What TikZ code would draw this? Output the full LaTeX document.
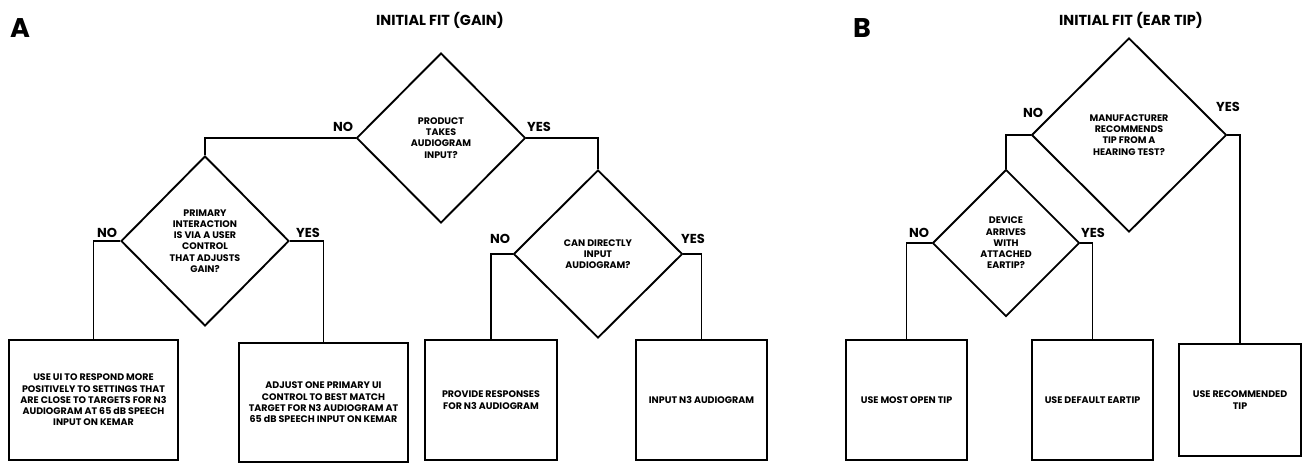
\documentclass[tikz,border=0pt]{standalone}
\usepackage{fontspec}
\setmainfont{Poppins}
\usetikzlibrary{shapes.geometric}

\tikzset{
  decision/.style={diamond, draw, line width=1.9pt, inner sep=0pt, align=center,
    font=\fontsize{9.5}{11.3}\selectfont\bfseries},
  action/.style={rectangle, draw, line width=1.9pt, inner sep=0pt, align=center,
    minimum width=169pt, minimum height=120pt, font=\fontsize{9.5}{11.3}\selectfont\bfseries},
  branch/.style={font=\fontsize{13}{13}\selectfont\bfseries},
  heading/.style={font=\fontsize{14.5}{14.5}\selectfont\bfseries},
  panel/.style={font=\fontsize{27}{27}\selectfont\bfseries},
  link/.style={line width=1.9pt}
}

\begin{document}
\begin{tikzpicture}[x=1pt, y=-1pt]
    \useasboundingbox (0,0) rectangle (1303,464);

    % panel A: gain
    \node[panel] (pa) at (20,28) {A};
    \node[heading] (ta) at (440,20) {INITIAL FIT (GAIN)};

    \node[decision, minimum width=169pt, minimum height=170pt] (audin) at (441,138)
        {PRODUCT\\TAKES\\AUDIOGRAM\\INPUT?};
    \node[decision, minimum width=168pt, minimum height=170pt] (ctrl) at (205,241)
        {PRIMARY\\INTERACTION\\IS VIA A USER\\CONTROL\\THAT ADJUSTS\\GAIN?};
    \node[decision, minimum width=169pt, minimum height=168pt] (direct) at (598,254)
        {CAN DIRECTLY\\INPUT\\AUDIOGRAM?};

    \node[action] (respond) at (93.5,400) {USE UI TO RESPOND MORE\\POSITIVELY TO SETTINGS THAT\\ARE CLOSE TO TARGETS FOR N3\\AUDIOGRAM AT 65 dB SPEECH\\INPUT ON KEMAR};
    \node[action, minimum height=119pt] (adjust) at (323.5,402.5) {ADJUST ONE PRIMARY UI\\CONTROL TO BEST MATCH\\TARGET FOR N3 AUDIOGRAM AT\\65 dB SPEECH INPUT ON KEMAR};
    \node[action, minimum width=132pt] (provide) at (491,400) {PROVIDE RESPONSES\\FOR N3 AUDIOGRAM};
    \node[action, minimum width=131pt] (inputn) at (701.5,400) {INPUT N3 AUDIOGRAM};

    \draw[link] (audin.west) -| (ctrl.north);
    \draw[link] (audin.east) -| (direct.north);
    \draw[link] (ctrl.west) -| (respond.north);
    \draw[link] (ctrl.east) -| (adjust.north);
    \draw[link] (direct.west) -| (provide.north);
    \draw[link] (direct.east) -| (inputn.north);

    \node[branch] (no1) at (343,127) {NO};
    \node[branch] (yes1) at (539,127) {YES};
    \node[branch] (no2) at (107,233) {NO};
    \node[branch] (yes2) at (308,233) {YES};
    \node[branch] (no3) at (500,239) {NO};
    \node[branch] (yes3) at (693,239) {YES};

    % panel B: ear tip
    \node[panel] (pb) at (862,28) {B};
    \node[heading] (tb) at (1131,20) {INITIAL FIT (EAR TIP)};

    \node[decision, minimum width=195pt, minimum height=194pt] (maker) at (1129,135)
        {MANUFACTURER\\RECOMMENDS\\TIP FROM A\\HEARING TEST?};
    \node[decision, minimum width=147pt, minimum height=147pt] (attach) at (1006,243)
        {DEVICE\\ARRIVES\\WITH\\ATTACHED\\EARTIP?};

    \node[action, minimum width=121pt] (open) at (906.5,400) {USE MOST OPEN TIP};
    \node[action, minimum width=121pt] (deflt) at (1092.5,400) {USE DEFAULT EARTIP};
    \node[action, minimum width=122pt, minimum height=112pt] (recom) at (1240,400) {USE RECOMMENDED\\TIP};

    \draw[link] (maker.west) -| (attach.north);
    \draw[link] (maker.east) -| (recom.north);
    \draw[link] (attach.west) -| (open.north);
    \draw[link] (attach.east) -| (deflt.north);

    \node[branch] (no4) at (1033,113) {NO};
    \node[branch] (yes4) at (1228,107) {YES};
    \node[branch] (no5) at (919,233) {NO};
    \node[branch] (yes5) at (1093,233) {YES};
\end{tikzpicture}
\end{document}
